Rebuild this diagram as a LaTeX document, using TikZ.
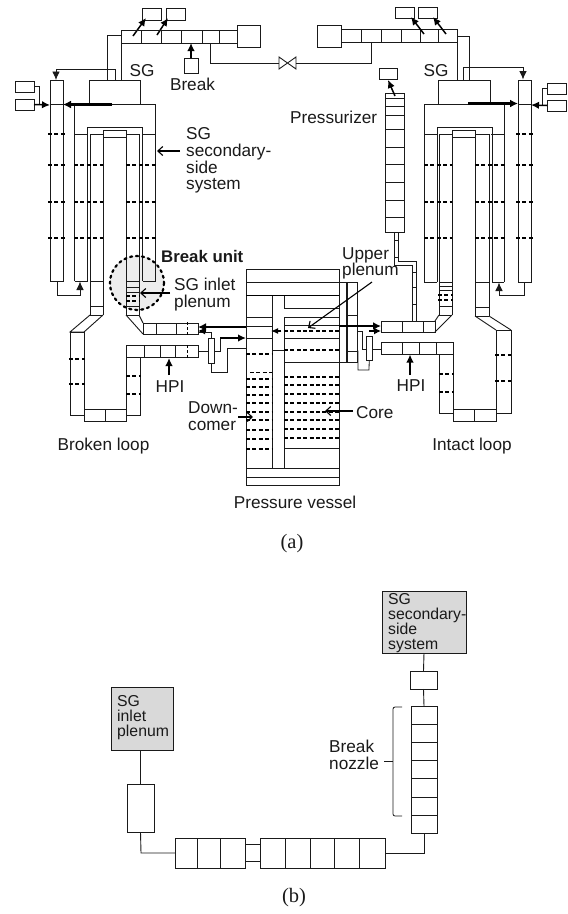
\documentclass[tikz,border=0pt]{standalone}
\usepackage{fontspec}
\setmainfont{Liberation Sans}
\newfontfamily\capfont{Liberation Serif}
\usetikzlibrary{arrows.meta}
\definecolor{ink}{HTML}{1A1A1A}
\tikzset{
  pipe/.style={draw=ink,line width=0.9pt,line join=miter},
  dsh/.style={draw=black,line width=1.2pt,dash pattern=on 4pt off 2.4pt},
  thin line/.style={draw=ink,line width=0.8pt},
  thinarrow/.style={draw=ink,line width=0.8pt,-{Latex[length=8.5pt,width=7.5pt]}},
  heavy/.style={draw=black,line width=1.5pt,-{Latex[length=8pt,width=7.5pt]}},
  heavier/.style={draw=black,line width=2.1pt,-{Latex[length=8pt,width=8pt]}},
  callout/.style={draw=black,line width=1.1pt,-{Straight Barb[length=5pt,width=9pt]}},
  lbl/.style={inner sep=0pt,align=left,font=\fontsize{17.2}{16.7}\selectfont,text=ink},
  lblb/.style={inner sep=0pt,align=left,font=\fontsize{15.8}{15}\selectfont,text=ink},
  captext/.style={inner sep=0pt,font=\capfont\fontsize{20.5}{22}\selectfont,text=ink},
  cell/.style={draw=ink,line width=0.9pt,inner sep=0pt,outer sep=0pt,anchor=north west},
}
\newcommand{\bx}[6][]{\pgfmathsetmacro{\wdt}{#5-#3}\pgfmathsetmacro{\hgt}{#6-#4}%
  \node[cell,minimum width=\wdt pt,minimum height=\hgt pt,#1] (#2) at (#3,#4) {};}
\newcommand{\hs}[3]{\foreach \v in {#1} {\draw[pipe] (#2,\v) -- (#3,\v);}}
\newcommand{\vs}[3]{\foreach \v in {#1} {\draw[pipe] (\v,#2) -- (\v,#3);}}
\newcommand{\ds}[3]{\foreach \v in {#1} {\draw[dsh] (#2,\v) -- (#3,\v);}}
\newcommand{\vds}[3]{\foreach \v in {#1} {\draw[dsh,line width=1pt,dash pattern=on 3pt off 2pt] (\v,#2) -- (\v,#3);}}
\begin{document}
\begin{tikzpicture}[x=1pt,y=-1pt]
\useasboundingbox (0,0) rectangle (568,914);
% circle highlight
\fill[black!7] (137,283) circle (27);

% ---------- top left ----------
\bx{bl1}{142}{8}{161}{20}
\bx{bl2}{166}{8}{185}{20}
\coordinate (bl1s) at (133,36); \coordinate (bl2s) at (157,35);
\draw[heavy] (bl1s) -- (146,18);
\draw[heavy] (bl2s) -- (168,18);
\draw[pipe] (121.5,30) rectangle (237,43);
\vs{141,161,181,202,219}{30}{43}
\bx{bigL}{237}{25}{260}{47}
\bx{brk}{184}{58}{198}{73}
\coordinate (brkTop) at (191,43);
\draw[heavy] (brk.north) -- (brkTop);
\draw[pipe] (121.5,43) -- (121.5,80);
\draw[pipe] (121.5,35) -- (107.5,35) -- (107.5,80);
\draw[thinarrow] (115,80) -- (115,69) -- (56,69) -- (56,80);

% valve and line
\coordinate (vL) at (279,57); \coordinate (vR) at (296,69);
\draw[pipe] (279,57) -- (296,69) -- (296,57) -- (279,69) -- cycle;
\draw[pipe] (210,43) -- (210,63) -- (279,63);
\draw[pipe] (296,63) -- (371,63) -- (371,43);

% left SG columns
\draw[pipe] (50,80) rectangle (63,281);
\hs{104.5}{50}{63}
\ds{134,165,202,238}{48}{65}
\bx{lb1}{15}{81}{34}{92}
\bx{lb2}{15}{99}{34}{110}
\draw[thin line] (lb1.east) -- (39,86.5) -- (39,105);
\draw[heavy] (lb2.east) -- (50,105);
\draw[pipe] (89,104) -- (89,80) -- (140,80) -- (140,104);
\draw[pipe] (74.5,281) -- (74.5,104.5) -- (155.5,104.5) -- (155.5,281);
\hs{134.5}{74.5}{87.5}
\hs{134.5}{142.5}{155.5}
\draw[heavier] (112,104.5) -- (63,104.5);
\draw[pipe] (87.5,281) -- (87.5,127) -- (142.5,127) -- (142.5,281);
\draw[pipe] (90,315) -- (90,134.5) -- (103,134.5) -- (103,315);
\draw[pipe] (126,315) -- (126,134.5) -- (139,134.5) -- (139,315);
\draw[pipe] (103,130) rectangle (126,137);
\ds{165,202,238}{74}{103}
\ds{165,202,238}{126}{156}
\draw[pipe] (74.5,281) -- (87.5,281);
\draw[pipe] (142.5,281) -- (155.5,281);
\draw[thinarrow] (57,281) -- (57,295) -- (80,295) -- (80,281.5);

% broken loop
\hs{281,306,315}{90}{103}
\hs{281.5,287,292,306,315}{126}{139}
\ds{296,301}{126}{140}
\draw[pipe] (90,315) -- (70,332) -- (84,332) -- (103,315);
\draw[pipe] (70,332) rectangle (84,415);
\ds{359,384}{69}{85}
\draw[pipe] (84,409.5) rectangle (126,421);
\vs{105}{409.5}{421}
\draw[pipe] (126,357) rectangle (140,415);
\ds{376,394}{126}{141}
\draw[pipe] (126,345) rectangle (198,357);
\vs{144,160,175}{345}{357}
\vds{187}{345}{358}
\draw[pipe] (143,323) rectangle (198,334);
\vs{156,176}{323}{334}
\vds{187}{322}{335}
\draw[pipe] (126,315) -- (143,334);
\draw[pipe] (139,315) -- (143,323);
\coordinate (hpiL) at (169,358);
\draw[heavy] (169,375) -- (hpiL);
\node[lbl,anchor=center] (hpiLt) at (170,387) {HPI};

% dotted circle
\draw[draw=black,line width=2.2pt,dash pattern=on 2.2pt off 3.8pt,line cap=round] (137,283) circle (27);

% left connection to vessel
\bx{cnL}{208}{338}{214}{363}
\draw[thin line] (cnL.north) -- (211,332) -- (198,332);
\draw[thin line] (198,351) -- (208,351);
\draw[thin line] (214,351) -- (220,351) -- (220,338);
\draw[thin line] (cnL.south) -- (211,372) -- (227,372) -- (227,348) -- (246,348);
\draw[heavy] (220,338) -- (246,338);
\draw[heavier,line width=1.7pt] (246,327) -- (198,327);
\draw[draw=black,line width=1.2pt,-{Latex[length=7pt,width=7pt]}] (206,331) -- (198,331);

% ---------- vessel ----------
\draw[pipe] (246,269) rectangle (339,485);
\hs{282,468,477}{246}{339}
\draw[draw=black,line width=1.3pt] (246,295.5) -- (339,295.5);
\vs{272}{296}{468}
\vs{284}{296}{308}
\vs{284}{317}{468}
\hs{308,317,325,338,362}{284}{339}
\draw[pipe] (284,448) -- (339,448);
\hs{317,326,338}{246}{272}
\draw[pipe] (272,350) -- (284,350);
\ds{354,379,387,395,403,412,420,430,439,449}{246}{272}
\draw[dsh,line width=0.9pt] (250,372) -- (272,372);
\ds{350}{284}{339}
\ds{377,385,394,403,412,420,429,438}{284}{339}
\draw[draw=black,line width=1.2pt,dash pattern=on 4pt off 2.4pt,-{Latex[length=7pt,width=6pt]}] (339,331) -- (271,331);

% column beside vessel
\draw[pipe] (339,282) -- (357,282) -- (357,362) -- (339,362);
\draw[draw=ink,line width=1.2pt] (347,282) -- (347,362);
\hs{315,351}{347}{357}

% right connection
\bx{cnR}{366}{336}{372.5}{360}
\draw[heavier,line width=1.7pt] (339,326) -- (381,326);
\draw[draw=black,line width=1.2pt,-{Latex[length=7pt,width=7pt]}] (369,331) -- (381,331);
\draw[thin line] (357,331) -- (362,331) -- (362,349) -- (366,349);
\draw[thin line] (372.5,349) -- (381,349);
\draw[thin line] (cnR.south) -- (369,370) -- (358,370) -- (358,351) -- (357,351);

% ---------- top right ----------
\bx{bigR}{317}{25}{341}{47}
\draw[pipe] (341,29) rectangle (457,42);
\vs{361,381,401,420,438}{29}{42}
\bx{br1}{395}{7}{414}{18}
\bx{br2}{418}{7}{437}{18}
\coordinate (br1s) at (424,34); \coordinate (br2s) at (446,34);
\draw[heavy] (br1s) -- (411,17);
\draw[heavy] (br2s) -- (433,17);
\draw[pipe] (457,42) -- (457,80);
\draw[pipe] (457,36) -- (469,36) -- (469,80);
\draw[thinarrow] (463,80) -- (463,67) -- (523,67) -- (523,79.5);

% pressurizer
\bx{pz}{379}{68}{397}{79}
\draw[pipe] (385,93) rectangle (404,232);
\hs{98,106,115,129,147,164,182,200,217}{385}{404}
\coordinate (pzs) at (395,96);
\draw[heavy] (pzs) -- (388,80);
\draw[pipe] (394,232) -- (394,265) -- (412,265) -- (412,321);
\draw[pipe] (398,232) -- (398,261) -- (416,261) -- (416,321);
\hs{240,257}{394}{398}
\hs{272,287,304}{412}{416}

% right SG
\draw[pipe] (518,80) rectangle (531,282);
\hs{104.5}{518}{531}
\ds{134,165,202,238}{516}{533}
\bx{rb1}{547}{83}{566}{94}
\bx{rb2}{547}{100}{566}{111}
\draw[thin line] (rb1.west) -- (542,88.5) -- (542,105);
\draw[heavy] (rb2.west) -- (531,105);
\draw[pipe] (438,104) -- (438,80) -- (490,80) -- (490,104);
\draw[pipe] (424,282) -- (424,104) -- (504,104) -- (504,282);
\hs{134.5}{424}{437}
\hs{134.5}{491}{504}
\draw[heavier] (468,103.5) -- (518,103.5);
\draw[pipe] (437,282) -- (437,127) -- (492,127) -- (492,282);
\draw[pipe] (439,315) -- (439,134.5) -- (452,134.5) -- (452,315);
\draw[pipe] (475,316) -- (475,134.5) -- (489,134.5) -- (489,316);
\draw[pipe] (452,130) rectangle (475,137);
\ds{165,202,238}{424}{452}
\ds{165,202,238}{475}{505}
\hs{282}{424}{437}
\hs{282}{492}{504}
\draw[thinarrow] (524,282) -- (524,295) -- (499,295) -- (499,282.5);

% intact loop
\hs{282,286,290,306,315}{439}{452}
\ds{295,300}{438}{453}
\hs{282,307,316}{475}{489}
\draw[pipe] (381,321) rectangle (435,332);
\vs{402,423}{321}{332}
\draw[pipe] (435,321) -- (439,315);
\draw[pipe] (435,332) -- (452,315);
\draw[pipe] (381,342) rectangle (453,354);
\vs{402,419,436}{342}{354}
\draw[pipe] (439,354) -- (439,413) -- (453,413);
\draw[pipe] (453,354) -- (453,421);
\ds{374,392}{439}{454}
\draw[pipe] (453,409) rectangle (496,421);
\vs{474}{409}{421}
\draw[pipe] (496,330) rectangle (511,413);
\ds{355,381}{495}{511}
\draw[pipe] (475,316) -- (496,330);
\draw[pipe] (489,316) -- (511,330);
\coordinate (hpiR) at (410,354.5);
\draw[heavy] (410,375) -- (hpiR);
\node[lbl,anchor=center] (hpiRt) at (411,386) {HPI};

% ---------- labels (a) ----------
\node[lbl,anchor=center] (sgL) at (142,71) {SG};
\node[lbl,anchor=center] (sgR) at (436,71) {SG};
\node[lbl,anchor=center] (brkT) at (192.5,84) {Break};
\node[lbl,anchor=west] (pzT) at (290,117) {Pressurizer};
\node[lbl,anchor=west] (sec) at (186,160.5) {SG\\secondary-\\side\\system};
\draw[callout] (180,151) -- (157,151);
\node[lbl,anchor=west,font=\bfseries\fontsize{16.8}{16.7}\selectfont] (bu) at (161,256) {Break unit};
\node[lbl,anchor=west] (inl) at (174,294.5) {SG inlet\\plenum};
\draw[callout] (170,293) -- (140,293);
\node[lbl,anchor=west] (up) at (342,263.5) {Upper\\plenum};
\draw[draw=black,line width=1.1pt,-{Straight Barb[length=5pt,width=9pt]}] (372,282) -- (308,328);
\node[lbl,anchor=west] (dc) at (188,416.5) {Down-\\comer};
\draw[callout] (238,417) -- (253,417);
\node[lbl,anchor=west] (core) at (356,413) {Core};
\draw[callout] (353,411) -- (325,411);
\node[lbl,anchor=center] (blt) at (103.5,446) {Broken loop};
\node[lbl,anchor=center] (ilt) at (472,446) {Intact loop};
\node[lbl,anchor=center] (pvt) at (295,502) {Pressure vessel};
\node[captext] (capa) at (292,544) {(a)};

% ---------- part (b) ----------
\bx[fill=black!15]{sec2}{382}{591}{466}{653}
\node[lblb,anchor=west] (sec2t) at (388,623.5) {SG\\secondary-\\side\\system};
\bx{s1}{410}{671}{437}{689}
\draw[pipe] (411,706) rectangle (437,833);
\coordinate (stTop) at (424,706); \coordinate (stBot) at (424,833);
\hs{724,742,760,778,797,815}{411}{437}
\draw[pipe] (sec2.south) -- (s1.north);
\draw[pipe] (s1.south) -- (stTop);
\bx{r2}{260}{838}{385}{868}
\vs{285,310,334,359}{838}{868}
\bx{r1}{175}{838}{245}{868}
\vs{197,220}{838}{868}
\draw[pipe] (stBot) -- (424,853) -- (r2.east);
\hs{844,861}{245}{260}
\bx[fill=black!15]{inl2}{111}{687}{173}{750}
\node[lblb,anchor=west] (inl2t) at (117,718) {SG\\inlet\\plenum};
\bx{l1}{127}{784}{154}{832}
\draw[pipe] (l1.north |- inl2.south) -- (l1.north);
\draw[pipe] (l1.south) -- (141,853) -- (r1.west |- 141,853);
\draw[thin line,rounded corners=2pt] (402,707) -- (393,707) -- (393,816) -- (402,816);
\draw[thin line] (384,761) -- (393,761);
\node[lbl,anchor=west] (bn) at (329,754.5) {Break\\nozzle};
\node[captext] (capb) at (294,898) {(b)};
\end{tikzpicture}
\end{document}
